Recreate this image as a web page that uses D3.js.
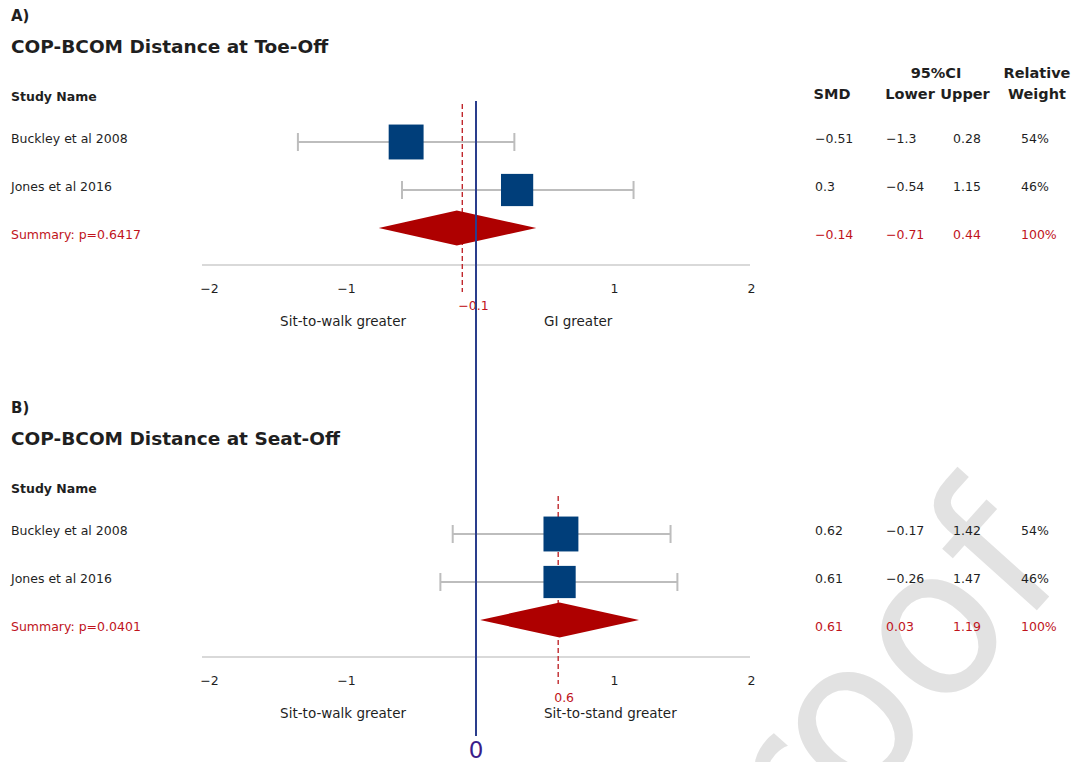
<!DOCTYPE html>
<html>
<head>
<meta charset="utf-8">
<script src="https://cdn.jsdelivr.net/npm/d3@7"></script>
<style>
  html, body { margin: 0; padding: 0; background: #fff; }
  svg { display: block; }
  text { font-family: "DejaVu Sans", sans-serif; }
</style>
</head>
<body>
<svg id="chart" width="1077" height="762"></svg>
<script>
// ---- data ----
const panelLabels = ["A)", "B)"];
const panelTitles = ["COP-BCOM Distance at Toe-Off", "COP-BCOM Distance at Seat-Off"];
const studies = ["Buckley et al 2008", "Jones et al 2016"];

const smdToe = [-0.51, 0.3];
const lowerToe = [-1.3, -0.54];
const upperToe = [0.28, 1.15];
const weightToe = [54, 46];

const smdSeat = [0.62, 0.61];
const lowerSeat = [-0.17, -0.26];
const upperSeat = [1.42, 1.47];
const weightSeat = [54, 46];

const summarySmd = [-0.14, 0.61];
const summaryLower = [-0.71, 0.03];
const summaryUpper = [0.44, 1.19];
const summaryWeight = [100, 100];
const summaryP = ["0.6417", "0.0401"];
const summaryLine = [-0.1, 0.6];

const tickValues = [-2, -1, 1, 2];
const leftDirection = ["Sit-to-walk greater", "Sit-to-walk greater"];
const rightDirection = ["GI greater", "Sit-to-stand greater"];
const nullValue = 0;

// ---- setup ----
const svg = d3.select("#chart");
const x = d3.scaleLinear().domain([-2, 2]).range([202, 750]);
const side = d3.scaleSqrt().domain([0, 100]).range([0, 47.5]);
const fmt = v => String(v).replace("-", "\u2212");

const BLACK = "#1f1f1f", RED = "#c0131b", NAVY = "#003e7a", DARKRED = "#ae0000";

// watermark behind everything, clipped to the page
svg.append("clipPath").attr("id", "page")
  .append("rect").attr("width", 1077).attr("height", 762);
svg.append("g").attr("clip-path", "url(#page)")
  .append("text")
  .attr("transform", "translate(722,960) rotate(-48)")
  .attr("font-size", 204)
  .attr("fill", "#e2e2e2")
  .text("Proof");

const panels = [
  { smd: smdToe, lower: lowerToe, upper: upperToe, weight: weightToe, dy: 0, header: true },
  { smd: smdSeat, lower: lowerSeat, upper: upperSeat, weight: weightSeat, dy: 392, header: false }
];

const colX = { smd: 815, lower: 886, upper: 953, weight: 1021 };
const textRows = [143, 191, 238.5];
const markRows = [142, 190];
const diamondY = 228;

panels.forEach((p, i) => {
  const g = svg.append("g").attr("transform", `translate(0,${p.dy})`);

  g.append("text").attr("x", 11).attr("y", 20.5).attr("font-size", 15)
    .attr("font-weight", "bold").attr("fill", BLACK).text(panelLabels[i]);
  g.append("text").attr("x", 11).attr("y", 52.5).attr("font-size", 18.5)
    .attr("font-weight", "bold").attr("fill", BLACK).text(panelTitles[i]);
  g.append("text").attr("x", 11).attr("y", 100.5).attr("font-size", 12.5)
    .attr("font-weight", "bold").attr("fill", BLACK).text("Study Name");

  if (p.header) {
    const h = g.append("g").attr("font-size", 14.5).attr("font-weight", "bold")
      .attr("fill", BLACK).attr("text-anchor", "middle");
    h.append("text").attr("x", 832).attr("y", 99).text("SMD");
    h.append("text").attr("x", 936).attr("y", 78).text("95%CI");
    h.append("text").attr("x", 910).attr("y", 99).text("Lower");
    h.append("text").attr("x", 965).attr("y", 99).text("Upper");
    h.append("text").attr("x", 1037).attr("y", 78).text("Relative");
    h.append("text").attr("x", 1037).attr("y", 99).text("Weight");
  }

  // study names and table values
  const rows = studies.map((s, k) => ({
    name: s, smd: p.smd[k], lower: p.lower[k], upper: p.upper[k], weight: p.weight[k], color: BLACK
  }));
  rows.push({
    name: "Summary: p=" + summaryP[i], smd: summarySmd[i], lower: summaryLower[i],
    upper: summaryUpper[i], weight: summaryWeight[i], color: RED
  });
  rows.forEach((r, k) => {
    const t = g.append("g").attr("font-size", 12.5).attr("fill", r.color);
    t.append("text").attr("x", 11).attr("y", textRows[k]).text(r.name);
    t.append("text").attr("x", colX.smd).attr("y", textRows[k]).text(fmt(r.smd));
    t.append("text").attr("x", colX.lower).attr("y", textRows[k]).text(fmt(r.lower));
    t.append("text").attr("x", colX.upper).attr("y", textRows[k]).text(fmt(r.upper));
    t.append("text").attr("x", colX.weight).attr("y", textRows[k]).text(r.weight + "%");
  });

  // axis baseline
  g.append("line").attr("x1", x(-2)).attr("x2", x(2)).attr("y1", 265).attr("y2", 265)
    .attr("stroke", "#d9d9d9").attr("stroke-width", 2);

  const axis = d3.axisBottom(x).tickValues(tickValues).tickSize(0).tickPadding(0).tickFormat(fmt);
  const ax = g.append("g").attr("transform", "translate(0,284)").call(axis);
  ax.select(".domain").remove();
  ax.selectAll("text")
    .attr("font-family", "DejaVu Sans, sans-serif")
    .attr("font-size", 12.5).attr("fill", BLACK)
    .attr("dy", "0.71em")
    .attr("dx", d => d < 0 ? 7 : 1);

  // summary dashed reference line and its label
  g.append("line").attr("x1", x(summaryLine[i])).attr("x2", x(summaryLine[i]))
    .attr("y1", 104).attr("y2", 292)
    .attr("stroke", "#c0282d").attr("stroke-width", 1.4).attr("stroke-dasharray", "5,3");
  g.append("text").attr("x", x(summaryLine[i]) - 4).attr("y", 309.5)
    .attr("font-size", 12.5).attr("fill", RED).text(fmt(summaryLine[i]));

  // direction labels
  g.append("text").attr("x", x(nullValue) - 70).attr("y", 325.5).attr("text-anchor", "end")
    .attr("font-size", 13.5).attr("fill", BLACK).text(leftDirection[i]);
  g.append("text").attr("x", x(nullValue) + 68).attr("y", 325.5)
    .attr("font-size", 13.5).attr("fill", BLACK).text(rightDirection[i]);

  // confidence intervals
  rows.slice(0, 2).forEach((r, k) => {
    const y = markRows[k];
    const ci = g.append("g").attr("stroke", "#bdbdbd").attr("stroke-width", 2);
    ci.append("line").attr("x1", x(r.lower)).attr("x2", x(r.upper)).attr("y1", y).attr("y2", y);
    ci.append("line").attr("x1", x(r.lower)).attr("x2", x(r.lower)).attr("y1", y - 9).attr("y2", y + 9);
    ci.append("line").attr("x1", x(r.upper)).attr("x2", x(r.upper)).attr("y1", y - 9).attr("y2", y + 9);
  });

  // weighted point estimates
  rows.slice(0, 2).forEach((r, k) => {
    const s = side(r.weight);
    g.append("rect").attr("x", x(r.smd) - s / 2).attr("y", markRows[k] - s / 2)
      .attr("width", s).attr("height", s).attr("fill", NAVY);
  });

  // pooled estimate diamond
  const hh = 17.5;
  g.append("path")
    .attr("d", `M${x(summaryLower[i])},${diamondY} L${x(summarySmd[i])},${diamondY - hh} ` +
               `L${x(summaryUpper[i])},${diamondY} L${x(summarySmd[i])},${diamondY + hh} Z`)
    .attr("fill", DARKRED);
});

// line of no effect spanning both panels
svg.append("line").attr("x1", x(nullValue)).attr("x2", x(nullValue)).attr("y1", 101).attr("y2", 736)
  .attr("stroke", "#2a3d8c").attr("stroke-width", 2);
svg.append("text").attr("x", x(nullValue)).attr("y", 758).attr("text-anchor", "middle")
  .attr("font-family", "Liberation Serif, serif").attr("font-size", 23)
  .attr("fill", "#3a1d8a").text(fmt(nullValue));
</script>
</body>
</html>
